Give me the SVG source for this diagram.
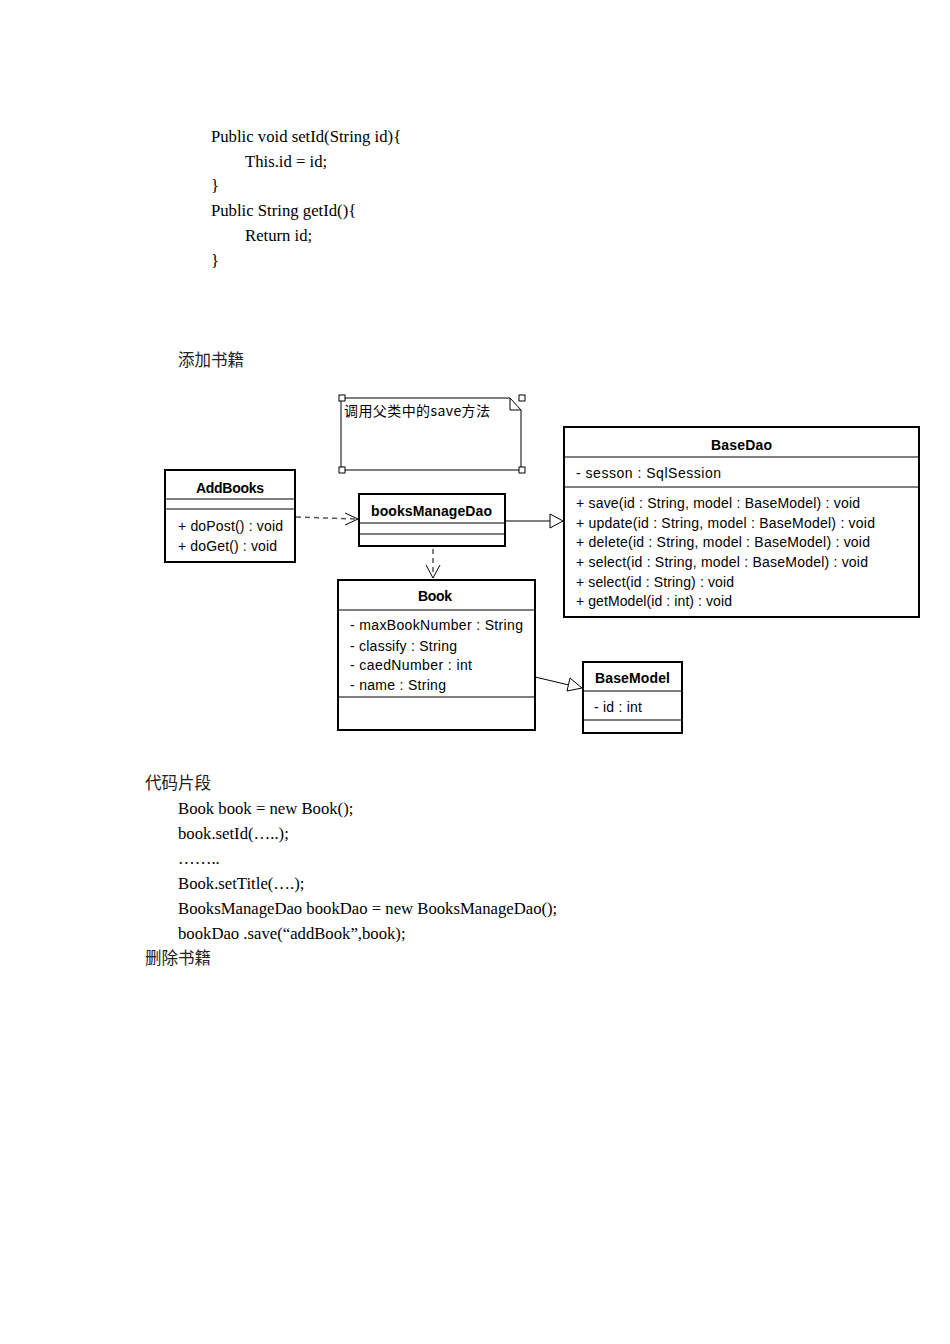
<svg xmlns="http://www.w3.org/2000/svg" width="950" height="1344" viewBox="0 0 950 1344">
<style>
.doc{font-family:"Liberation Serif","Noto Sans CJK SC",serif;font-size:16.7px;fill:#000}
.cjk{font-family:"Noto Sans CJK SC","Liberation Serif",serif;font-size:16.5px;fill:#222}
.box{fill:#fff;stroke:#000;stroke-width:2}
.sep{stroke:#000;stroke-width:1}
.t{font-family:"Liberation Sans",Arial,sans-serif;font-size:14px;fill:#000}
.tb{font-family:"Liberation Sans",Arial,sans-serif;font-size:14px;font-weight:bold;fill:#000}
.ln{fill:none;stroke:#000;stroke-width:1}
.dash{fill:none;stroke:#555;stroke-width:1.5;stroke-dasharray:5,4}
.tri{fill:#fff;stroke:#000;stroke-width:1}
.h{fill:#fff;stroke:#000;stroke-width:1}
</style>
<rect width="950" height="1344" fill="#fff"/>
<g id="code-top">
<text class="doc" x="211" y="142">Public void setId(String id){</text>
<text class="doc" x="245" y="167">This.id = id;</text>
<text class="doc" x="211" y="191">}</text>
<text class="doc" x="211" y="216">Public String getId(){</text>
<text class="doc" x="245" y="241">Return id;</text>
<text class="doc" x="211" y="266">}</text>
<text class="cjk" x="178" y="366">添加书籍</text>
</g>
<g id="connectors">
<path class="dash" d="M296,517 L356,519"/>
<path class="ln" d="M345,513 L358,519 L345,525" stroke="#555" stroke-width="1.5"/>
<path class="dash" d="M433,549 L433,576"/>
<path class="ln" d="M426,565 L433,578 L440,565" stroke="#555" stroke-width="1.5"/>
<path class="ln" d="M505,521 L550,521"/>
<path class="tri" d="M550,514 L563,521 L550,528 Z"/>
<path class="ln" d="M535,677 L569,685"/>
<path class="tri" d="M570,678 L582,688 L567,691 Z"/>
</g>
<g id="note">
<path class="ln" d="M341,398 L510,398 L521,410 L521,470 L341,470 Z" stroke-width="1.2"/>
<path class="ln" d="M510,398 L510,410 L521,410"/>
<rect class="h" x="339" y="395" width="6" height="6"/>
<rect class="h" x="519" y="395" width="6" height="6"/>
<rect class="h" x="339" y="467" width="6" height="6"/>
<rect class="h" x="519" y="467" width="6" height="6"/>
<text x="344" y="416" textLength="146" style="font-family:'Noto Sans CJK SC','Liberation Sans',sans-serif;font-size:14px;fill:#000">调用父类中的save方法</text>
</g>
<g id="AddBooks">
<rect class="box" x="165" y="470" width="130" height="92"/>
<line class="sep" x1="165" y1="499" x2="295" y2="499"/>
<line class="sep" x1="165" y1="509" x2="295" y2="509"/>
<text class="tb" x="196" y="493" textLength="68">AddBooks</text>
<text class="t" x="178" y="531" textLength="105">+ doPost() : void</text>
<text class="t" x="178" y="551" textLength="99">+ doGet() : void</text>
</g>
<g id="booksManageDao">
<rect class="box" x="359" y="494" width="146" height="52"/>
<line class="sep" x1="359" y1="523" x2="505" y2="523"/>
<line class="sep" x1="359" y1="534" x2="505" y2="534"/>
<text class="tb" x="371" y="516" textLength="121">booksManageDao</text>
</g>
<g id="BaseDao">
<rect class="box" x="564" y="427" width="355" height="190"/>
<line class="sep" x1="564" y1="457" x2="919" y2="457"/>
<line class="sep" x1="564" y1="487" x2="919" y2="487"/>
<text class="tb" x="711" y="450" textLength="61">BaseDao</text>
<text class="t" x="576" y="478" textLength="145">- sesson : SqlSession</text>
<text class="t" x="576" y="508" textLength="284">+ save(id : String, model : BaseModel) : void</text>
<text class="t" x="576" y="528" textLength="299">+ update(id : String, model : BaseModel) : void</text>
<text class="t" x="576" y="547" textLength="294">+ delete(id : String, model : BaseModel) : void</text>
<text class="t" x="576" y="567" textLength="292">+ select(id : String, model : BaseModel) : void</text>
<text class="t" x="576" y="587" textLength="158">+ select(id : String) : void</text>
<text class="t" x="576" y="606" textLength="156">+ getModel(id : int) : void</text>
</g>
<g id="Book">
<rect class="box" x="338" y="580" width="197" height="150"/>
<line class="sep" x1="338" y1="610" x2="535" y2="610"/>
<line class="sep" x1="338" y1="697" x2="535" y2="697"/>
<text class="tb" x="418" y="601" textLength="34">Book</text>
<text class="t" x="350" y="630" textLength="173">- maxBookNumber : String</text>
<text class="t" x="350" y="651" textLength="107">- classify : String</text>
<text class="t" x="350" y="670" textLength="122">- caedNumber : int</text>
<text class="t" x="350" y="690" textLength="96">- name : String</text>
</g>
<g id="BaseModel">
<rect class="box" x="583" y="662" width="99" height="71"/>
<line class="sep" x1="583" y1="691" x2="682" y2="691"/>
<line class="sep" x1="583" y1="720" x2="682" y2="720"/>
<text class="tb" x="595" y="683" textLength="75">BaseModel</text>
<text class="t" x="594" y="712" textLength="48">- id : int</text>
</g>
<g id="code-bottom">
<text class="cjk" x="145" y="789">代码片段</text>
<text class="doc" x="178" y="814">Book book = new Book();</text>
<text class="doc" x="178" y="839">book.setId(…..);</text>
<text class="doc" x="178" y="864">……..</text>
<text class="doc" x="178" y="889">Book.setTitle(….);</text>
<text class="doc" x="178" y="914">BooksManageDao bookDao = new BooksManageDao();</text>
<text class="doc" x="178" y="939">bookDao .save(“addBook”,book);</text>
<text class="cjk" x="145" y="964">删除书籍</text>
</g>
</svg>
